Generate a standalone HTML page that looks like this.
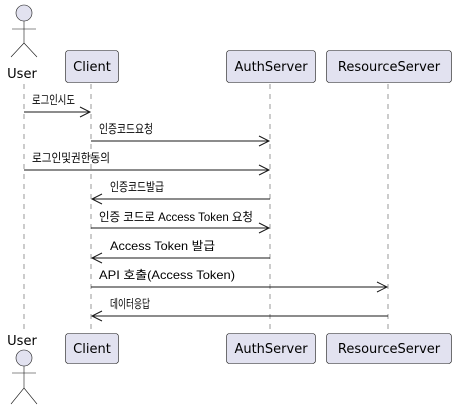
<!DOCTYPE html>
<html><head><meta charset="utf-8"><style>body{margin:0;background:#fff}svg{display:block}text{font-family:"Liberation Sans","Noto Sans CJK KR",sans-serif;fill:#000}.b{font-family:"DejaVu Sans","Liberation Sans",sans-serif}</style></head><body>
<svg width="457" height="415" viewBox="0 0 457 415">
<g stroke="#999" stroke-dasharray="5,5" stroke-width="1">
<line x1="24" y1="84" x2="24" y2="333"/><line x1="91" y1="84" x2="91" y2="333"/><line x1="270" y1="84" x2="270" y2="333"/><line x1="388" y1="84" x2="388" y2="333"/>
</g>
<g fill="#e2e2f0" stroke="#181818" stroke-width="0.6">
<rect x="65.5" y="50.5" width="53" height="32" rx="3"/><rect x="226.5" y="50.5" width="89" height="32" rx="3"/><rect x="326.5" y="50.5" width="125" height="32" rx="3"/>
<rect x="65.5" y="333.5" width="53" height="30" rx="3"/><rect x="226.5" y="333.5" width="89" height="30" rx="3"/><rect x="326.5" y="333.5" width="125" height="30" rx="3"/>
<circle cx="24" cy="13" r="8"/><circle cx="24" cy="358" r="8"/>
</g>
<g stroke="#181818" stroke-width="0.6" fill="none">
<path d="M24 21V43M12 29H36M11 57L24 43L37 57"/>
<path d="M24 366V388M12 373H36M11 404L24 388L37 404"/>
</g>
<g font-size="13" text-anchor="middle" class="b">
<text class="b" x="92" y="71">Client</text><text class="b" x="271" y="71">AuthServer</text><text class="b" x="389" y="71">ResourceServer</text>
<text class="b" x="92" y="353">Client</text><text class="b" x="271" y="353">AuthServer</text><text class="b" x="389" y="353">ResourceServer</text>
<text class="b" x="22" y="78">User</text><text class="b" x="22" y="345">User</text>
</g>
<g stroke="#181818" stroke-width="1" fill="none">
<path d="M24 112H90M80 107L90 112L80 117"/>
<path d="M91 141H269M259 136L269 141L259 146"/>
<path d="M24 170H269M259 165L269 170L259 175"/>
<path d="M270 199H92M102 194L92 199L102 204"/>
<path d="M91 228H269M259 223L269 228L259 233"/>
<path d="M270 258H92M102 253L92 258L102 263"/>
<path d="M91 287H387M377 282L387 287L377 292"/>
<path d="M388 316H92M102 311L92 316L102 321"/>
</g>
<g font-size="12">
<text x="32" y="104" textLength="43" lengthAdjust="spacingAndGlyphs">로그인시도</text>
<text x="99" y="133" textLength="54" lengthAdjust="spacingAndGlyphs">인증코드요청</text>
<text x="32" y="162" textLength="78" lengthAdjust="spacingAndGlyphs">로그인및권한동의</text>
<text x="110" y="191" textLength="54" lengthAdjust="spacingAndGlyphs">인증코드발급</text>
<text x="99" y="221" textLength="154" lengthAdjust="spacingAndGlyphs">인증 코드로 Access Token 요청</text>
<text x="110" y="250" textLength="105" lengthAdjust="spacingAndGlyphs">Access Token 발급</text>
<text x="99" y="279" textLength="136" lengthAdjust="spacingAndGlyphs">API 호출(Access Token)</text>
<text x="110" y="308" textLength="40" lengthAdjust="spacingAndGlyphs">데이터응답</text>
</g>
</svg>
</body></html>
